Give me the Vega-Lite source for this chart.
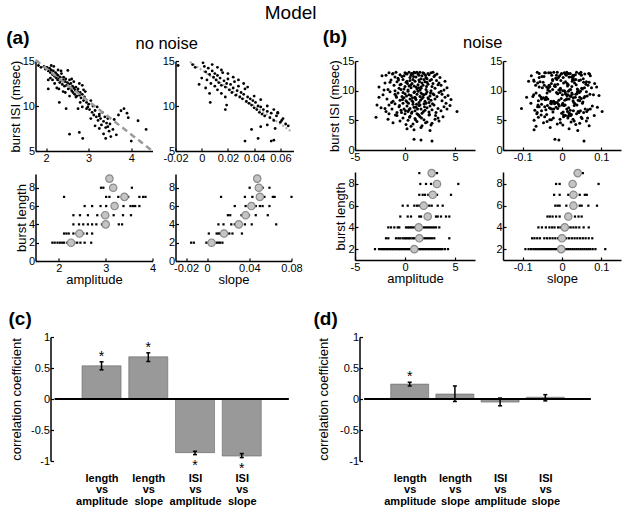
{
"$schema": "https://vega.github.io/schema/vega-lite/v6.json",
"background": "white",
"padding": {"left": 5.5, "top": 4, "right": 2, "bottom": 2},
"title": {"text": "Model", "fontSize": 19, "fontWeight": "normal", "anchor": "middle", "frame": "bounds", "offset": 5, "color": "black", "font": "Liberation Sans", "dx": -23},
"config": {
 "font": "Liberation Sans",
 "view": {"stroke": null},
 "locale": {"number": {"decimal": ".", "thousands": ",", "grouping": [3], "currency": ["$", ""], "minus": "-"}},
 "axis": {"labelFont": "Liberation Sans", "titleFont": "Liberation Sans", "labelFontSize": 11, "titleFontSize": 13, "titleFontWeight": "normal", "labelColor": "black", "titleColor": "black", "domainColor": "black", "domainWidth": 1.5, "tickColor": "black", "tickSize": -3, "tickWidth": 1.2, "labelPadding": 4, "titlePadding": 0, "grid": false, "labelFlush": false, "labelOverlap": false, "labelBound": false, "tickCount": 20},
 "title": {"color": "black", "font": "Liberation Sans"}
},
"datasets": {
 "a1": [
  {"amp":1.82,"isi":14.5},{"amp":1.88,"isi":14.3},{"amp":1.95,"isi":14.4},{"amp":1.98,"isi":14.1},{"amp":2.02,"isi":14.3},{"amp":2.05,"isi":13.9},{"amp":2.08,"isi":14.2},{"amp":2.1,"isi":13.7},{"amp":2.12,"isi":14.0},{"amp":2.15,"isi":13.5},{"amp":2.17,"isi":13.9},{"amp":2.2,"isi":13.3},{"amp":2.22,"isi":13.7},{"amp":2.24,"isi":13.1},{"amp":2.25,"isi":13.5},{"amp":2.27,"isi":12.9},{"amp":2.28,"isi":13.4},{"amp":2.3,"isi":13.0},{"amp":2.32,"isi":12.6},{"amp":2.33,"isi":13.2},{"amp":2.35,"isi":12.8},{"amp":2.36,"isi":13.6},{"amp":2.38,"isi":12.4},{"amp":2.4,"isi":12.9},{"amp":2.41,"isi":13.2},{"amp":2.43,"isi":12.2},{"amp":2.45,"isi":12.7},{"amp":2.46,"isi":13.0},{"amp":2.48,"isi":12.3},{"amp":2.5,"isi":12.6},{"amp":2.52,"isi":11.9},{"amp":2.53,"isi":12.4},{"amp":2.55,"isi":12.9},{"amp":2.57,"isi":12.0},{"amp":2.58,"isi":12.5},{"amp":2.6,"isi":11.7},{"amp":2.62,"isi":12.2},{"amp":2.63,"isi":11.5},{"amp":2.65,"isi":12.0},{"amp":2.67,"isi":11.3},{"amp":2.68,"isi":11.8},{"amp":2.7,"isi":12.1},{"amp":2.72,"isi":11.1},{"amp":2.74,"isi":11.6},{"amp":2.75,"isi":11.9},{"amp":2.78,"isi":11.2},{"amp":2.8,"isi":11.5},{"amp":2.82,"isi":10.9},{"amp":2.85,"isi":11.3},{"amp":2.88,"isi":10.6},{"amp":2.9,"isi":11.0},{"amp":2.92,"isi":11.6},
  {"amp":2.2,"isi":12.5},{"amp":2.25,"isi":12.0},{"amp":2.3,"isi":11.9},{"amp":2.15,"isi":12.9},{"amp":2.1,"isi":13.1},{"amp":2.4,"isi":11.6},{"amp":2.45,"isi":11.5},{"amp":2.55,"isi":11.1},{"amp":2.6,"isi":13.0},{"amp":2.65,"isi":12.7},{"amp":2.7,"isi":11.0},{"amp":2.35,"isi":13.9},{"amp":2.28,"isi":14.0},{"amp":2.18,"isi":14.4},{"amp":2.12,"isi":14.5},{"amp":2.05,"isi":12.9},{"amp":2.05,"isi":11.9},{"amp":2.31,"isi":10.4},{"amp":2.47,"isi":9.7},{"amp":2.51,"isi":13.95},{"amp":2.78,"isi":12.5},{"amp":2.85,"isi":12.3},{"amp":2.88,"isi":11.8},
  {"amp":2.95,"isi":10.4},{"amp":2.98,"isi":9.9},{"amp":3.0,"isi":10.2},{"amp":3.02,"isi":9.6},{"amp":3.05,"isi":10.6},{"amp":3.08,"isi":9.3},{"amp":3.1,"isi":10.0},{"amp":3.12,"isi":9.0},{"amp":3.15,"isi":9.5},{"amp":3.18,"isi":8.8},{"amp":3.2,"isi":9.9},{"amp":3.22,"isi":8.4},{"amp":3.25,"isi":9.1},{"amp":3.28,"isi":8.6},{"amp":3.3,"isi":7.9},{"amp":3.32,"isi":9.3},{"amp":3.35,"isi":8.3},{"amp":3.38,"isi":8.8},{"amp":3.4,"isi":7.6},{"amp":3.42,"isi":8.1},{"amp":3.45,"isi":8.6},{"amp":3.48,"isi":7.2},{"amp":3.5,"isi":8.0},{"amp":3.52,"isi":6.6},{"amp":2.75,"isi":9.7},{"amp":2.8,"isi":10.4},{"amp":2.85,"isi":9.9},{"amp":2.95,"isi":9.7},{"amp":3.05,"isi":8.6},{"amp":3.15,"isi":7.8},{"amp":3.25,"isi":7.5},{"amp":3.35,"isi":6.9},
  {"amp":2.55,"isi":6.87},{"amp":2.78,"isi":7.06},{"amp":2.86,"isi":6.4},{"amp":3.4,"isi":6.4},{"amp":3.57,"isi":7.4},{"amp":3.76,"isi":9.47},{"amp":3.83,"isi":9.7},{"amp":3.9,"isi":9.2},{"amp":3.7,"isi":9.0},{"amp":3.93,"isi":8.7},{"amp":4.16,"isi":8.36},{"amp":4.35,"isi":7.4},{"amp":4.0,"isi":6.1},{"amp":3.6,"isi":8.5},{"amp":3.45,"isi":7.7},{"amp":3.65,"isi":6.8},{"amp":3.25,"isi":8.9}
 ],
 "a1fit": [{"amp":1.75,"isi":15.1},{"amp":4.5,"isi":5.0}],
 "a2": [
  {"slope":-0.018,"isi":14.5},{"slope":-0.007,"isi":14.6},{"slope":-0.005,"isi":14.3},{"slope":0.001,"isi":14.8},{"slope":0.002,"isi":14.4},{"slope":0.005,"isi":14.2},{"slope":0.003,"isi":13.8},{"slope":0.006,"isi":13.5},{"slope":0.008,"isi":13.9},{"slope":0.009,"isi":13.2},{"slope":0.01,"isi":13.6},{"slope":0.011,"isi":12.9},{"slope":0.012,"isi":13.4},{"slope":0.013,"isi":12.6},{"slope":0.014,"isi":13.1},{"slope":0.015,"isi":12.3},{"slope":0.016,"isi":13.7},{"slope":0.017,"isi":12.8},{"slope":0.018,"isi":12.1},{"slope":0.019,"isi":12.5},{"slope":0.02,"isi":13.0},{"slope":0.021,"isi":11.8},{"slope":0.022,"isi":12.4},{"slope":0.023,"isi":11.5},{"slope":0.024,"isi":12.0},{"slope":0.025,"isi":12.7},{"slope":0.026,"isi":11.2},{"slope":0.027,"isi":11.7},{"slope":0.028,"isi":12.2},{"slope":0.029,"isi":11.0},{"slope":0.03,"isi":11.5},{"slope":0.031,"isi":10.8},{"slope":0.032,"isi":11.3},{"slope":0.033,"isi":11.9},{"slope":0.034,"isi":10.5},{"slope":0.035,"isi":11.0},{"slope":0.036,"isi":10.3},{"slope":0.037,"isi":10.8},{"slope":0.038,"isi":10.1},{"slope":0.039,"isi":10.6},{"slope":0.04,"isi":9.8},{"slope":0.041,"isi":10.4},{"slope":0.042,"isi":9.6},{"slope":0.043,"isi":10.0},{"slope":0.044,"isi":9.3},{"slope":0.045,"isi":9.9},{"slope":0.046,"isi":9.1},{"slope":0.047,"isi":9.6},{"slope":0.048,"isi":8.9},{"slope":0.05,"isi":9.4},{"slope":0.052,"isi":8.7},{"slope":0.053,"isi":9.2},{"slope":0.055,"isi":8.4},{"slope":0.057,"isi":8.9},{"slope":0.058,"isi":9.3},{"slope":0.06,"isi":8.2},{"slope":0.062,"isi":8.6},{"slope":0.064,"isi":8.0},{"slope":0.066,"isi":7.8},
  {"slope":0.004,"isi":12.9},{"slope":0.007,"isi":12.5},{"slope":0.01,"isi":12.2},{"slope":0.012,"isi":11.8},{"slope":0.015,"isi":11.4},{"slope":0.018,"isi":11.0},{"slope":0.006,"isi":11.4},{"slope":0.0065,"isi":10.4},{"slope":0.018,"isi":9.6},{"slope":0.019,"isi":10.1},{"slope":0.008,"isi":14.6},{"slope":0.012,"isi":14.3},{"slope":0.015,"isi":14.0},{"slope":0.02,"isi":13.6},{"slope":0.024,"isi":13.2},{"slope":0.028,"isi":12.9},{"slope":0.032,"isi":12.5},{"slope":0.035,"isi":12.1},{"slope":0.04,"isi":11.1},{"slope":0.045,"isi":10.7},{"slope":0.05,"isi":10.0},{"slope":0.055,"isi":9.6},{"slope":0.0,"isi":13.1},{"slope":-0.002,"isi":12.4},{"slope":0.003,"isi":12.0},
  {"slope":0.033,"isi":6.1},{"slope":0.043,"isi":6.4},{"slope":0.053,"isi":6.1},{"slope":0.055,"isi":6.2},{"slope":0.038,"isi":7.4},{"slope":0.045,"isi":7.7},{"slope":0.058,"isi":9.2},{"slope":0.061,"isi":8.4},{"slope":0.05,"isi":7.9},{"slope":0.056,"isi":7.5}
 ],
 "a2fit": [{"slope":-0.009,"isi":14.9},{"slope":0.069,"isi":7.1}],
 "a3": [
  {"len":2,"amp":1.86},{"len":2,"amp":1.91},{"len":2,"amp":1.97},{"len":2,"amp":2.02},{"len":2,"amp":2.07},{"len":2,"amp":2.11},{"len":2,"amp":2.18},{"len":2,"amp":2.21},{"len":2,"amp":2.28},{"len":2,"amp":2.33},{"len":2,"amp":2.39},{"len":2,"amp":2.46},{"len":2,"amp":2.55},{"len":2,"amp":2.69},
  {"len":3,"amp":2.11},{"len":3,"amp":2.16},{"len":3,"amp":2.21},{"len":3,"amp":2.31},{"len":3,"amp":2.38},{"len":3,"amp":2.52},{"len":3,"amp":2.6},{"len":3,"amp":2.71},
  {"len":4,"amp":2.31},{"len":4,"amp":2.43},{"len":4,"amp":2.52},{"len":4,"amp":2.62},{"len":4,"amp":2.71},{"len":4,"amp":2.8},{"len":4,"amp":2.92},{"len":4,"amp":3.03},{"len":4,"amp":3.28},{"len":4,"amp":3.35},
  {"len":5,"amp":2.31},{"len":5,"amp":2.45},{"len":5,"amp":2.62},{"len":5,"amp":2.82},{"len":5,"amp":2.92},{"len":5,"amp":3.03},{"len":5,"amp":3.17},{"len":5,"amp":3.37},{"len":5,"amp":3.54},
  {"len":6,"amp":2.55},{"len":6,"amp":2.71},{"len":6,"amp":2.89},{"len":6,"amp":3.01},{"len":6,"amp":3.23},{"len":6,"amp":3.38},{"len":6,"amp":3.53},{"len":6,"amp":3.58},{"len":6,"amp":3.63},{"len":6,"amp":3.72},
  {"len":7,"amp":2.11},{"len":7,"amp":3.01},{"len":7,"amp":3.08},{"len":7,"amp":3.27},{"len":7,"amp":3.48},{"len":7,"amp":3.72},{"len":7,"amp":3.8},{"len":7,"amp":3.85},
  {"len":8,"amp":2.9},{"len":8,"amp":2.95},{"len":8,"amp":3.56},
  {"len":9,"amp":3.08}
 ],
 "a3m": [{"len":2,"amp":2.26},{"len":3,"amp":2.44},{"len":4,"amp":3.0},{"len":5,"amp":2.99},{"len":6,"amp":3.19},{"len":7,"amp":3.4},{"len":8,"amp":3.16},{"len":9,"amp":3.08}],
 "a4": [
  {"len":2,"slope":-0.0152},{"len":2,"slope":-0.0126},{"len":2,"slope":-0.0007},{"len":2,"slope":0.0016},{"len":2,"slope":0.0058},{"len":2,"slope":0.009},{"len":2,"slope":0.0107},{"len":2,"slope":0.0122},{"len":2,"slope":0.0145},
  {"len":3,"slope":0.0016},{"len":3,"slope":0.009},{"len":3,"slope":0.0107},{"len":3,"slope":0.0122},{"len":3,"slope":0.017},{"len":3,"slope":0.021},{"len":3,"slope":0.024},{"len":3,"slope":0.033},
  {"len":4,"slope":0.0107},{"len":4,"slope":0.0155},{"len":4,"slope":0.0229},{"len":4,"slope":0.0262},{"len":4,"slope":0.0316},{"len":4,"slope":0.0358},{"len":4,"slope":0.0423},{"len":4,"slope":0.0655},
  {"len":5,"slope":0.0197},{"len":5,"slope":0.0219},{"len":5,"slope":0.0326},{"len":5,"slope":0.0397},{"len":5,"slope":0.0461},{"len":5,"slope":0.0575},
  {"len":6,"slope":0.0262},{"len":6,"slope":0.0365},{"len":6,"slope":0.0461},{"len":6,"slope":0.05},{"len":6,"slope":0.0526},{"len":6,"slope":0.0591},
  {"len":7,"slope":0.0132},{"len":7,"slope":0.0358},{"len":7,"slope":0.0429},{"len":7,"slope":0.0543},{"len":7,"slope":0.0623},{"len":7,"slope":0.064},{"len":7,"slope":0.08},
  {"len":8,"slope":0.0403},{"len":8,"slope":0.0526},{"len":8,"slope":0.0591},
  {"len":9,"slope":0.0475}
 ],
 "a4m": [{"len":2,"slope":0.0042},{"len":3,"slope":0.016},{"len":4,"slope":0.03},{"len":5,"slope":0.0365},{"len":6,"slope":0.042},{"len":7,"slope":0.05},{"len":8,"slope":0.049},{"len":9,"slope":0.0475}],
 "b": [
  {"amp":-2.3,"slope":-0.078,"isi":12.5},{"amp":-1.6,"slope":-0.042,"isi":13.0},{"amp":-1.2,"slope":0.021,"isi":12.9},{"amp":-0.9,"slope":-0.012,"isi":13.1},{"amp":-0.5,"slope":0.034,"isi":12.7},{"amp":-0.3,"slope":-0.051,"isi":12.4},{"amp":0.0,"slope":0.006,"isi":13.0},{"amp":0.2,"slope":0.058,"isi":12.8},{"amp":0.4,"slope":-0.021,"isi":13.1},{"amp":0.6,"slope":0.011,"isi":12.6},{"amp":0.8,"slope":0.044,"isi":12.9},{"amp":1.0,"slope":-0.029,"isi":13.0},{"amp":1.1,"slope":0.024,"isi":12.3},{"amp":1.3,"slope":-0.002,"isi":12.8},{"amp":1.5,"slope":-0.063,"isi":13.1},{"amp":1.7,"slope":0.072,"isi":12.5},{"amp":1.9,"slope":0.016,"isi":12.9},{"amp":2.1,"slope":-0.009,"isi":12.2},{"amp":2.4,"slope":0.049,"isi":12.7},{"amp":2.6,"slope":-0.044,"isi":13.0},{"amp":2.9,"slope":0.029,"isi":12.4},{"amp":3.2,"slope":0.008,"isi":12.8},{"amp":-0.7,"slope":-0.016,"isi":12.1},{"amp":0.9,"slope":0.037,"isi":13.1},{"amp":1.4,"slope":-0.026,"isi":12.6},{"amp":2.2,"slope":0.054,"isi":12.0},{"amp":0.1,"slope":0.068,"isi":12.9},{"amp":-1.0,"slope":0.018,"isi":12.3},{"amp":1.8,"slope":-0.034,"isi":13.0},{"amp":3.5,"slope":0.003,"isi":12.2},{"amp":-1.9,"slope":0.028,"isi":12.6},{"amp":0.5,"slope":-0.058,"isi":12.2},{"amp":2.8,"slope":0.012,"isi":13.1},{"amp":-0.1,"slope":-0.006,"isi":12.5},{"amp":1.2,"slope":0.048,"isi":13.1},
  {"amp":-2.6,"slope":-0.058,"isi":10.6},{"amp":-2.0,"slope":0.032,"isi":11.3},{"amp":-1.7,"slope":-0.024,"isi":10.2},{"amp":-1.4,"slope":0.047,"isi":11.8},{"amp":-1.1,"slope":-0.067,"isi":10.9},{"amp":-0.8,"slope":0.009,"isi":11.5},{"amp":-0.6,"slope":-0.035,"isi":10.4},{"amp":-0.4,"slope":0.061,"isi":11.1},{"amp":-0.2,"slope":-0.013,"isi":11.9},{"amp":0.0,"slope":0.025,"isi":10.7},{"amp":0.1,"slope":-0.048,"isi":11.4},{"amp":0.3,"slope":0.041,"isi":10.1},{"amp":0.5,"slope":-0.003,"isi":11.7},{"amp":0.6,"slope":0.075,"isi":10.5},{"amp":0.7,"slope":-0.027,"isi":11.2},{"amp":0.9,"slope":0.014,"isi":10.8},{"amp":1.0,"slope":-0.071,"isi":11.6},{"amp":1.2,"slope":0.052,"isi":10.3},{"amp":1.3,"slope":-0.018,"isi":11.0},{"amp":1.4,"slope":0.031,"isi":11.8},{"amp":1.6,"slope":-0.039,"isi":10.6},{"amp":1.7,"slope":0.004,"isi":11.3},{"amp":1.8,"slope":0.066,"isi":10.9},{"amp":2.0,"slope":-0.056,"isi":11.5},{"amp":2.1,"slope":0.022,"isi":10.2},{"amp":2.3,"slope":-0.011,"isi":11.1},{"amp":2.5,"slope":0.043,"isi":11.7},{"amp":2.7,"slope":-0.031,"isi":10.7},{"amp":2.8,"slope":0.083,"isi":11.2},{"amp":3.0,"slope":-0.004,"isi":10.4},{"amp":3.3,"slope":0.036,"isi":11.0},{"amp":3.6,"slope":-0.045,"isi":10.9},{"amp":3.9,"slope":0.019,"isi":10.1},{"amp":4.2,"slope":0.057,"isi":10.5},{"amp":-1.0,"slope":0.002,"isi":10.0},{"amp":0.2,"slope":-0.085,"isi":11.6},{"amp":0.8,"slope":0.027,"isi":11.9},{"amp":1.5,"slope":-0.008,"isi":10.1},{"amp":2.2,"slope":0.069,"isi":11.4},{"amp":-0.1,"slope":0.039,"isi":10.3},{"amp":0.4,"slope":-0.019,"isi":10.8},{"amp":1.1,"slope":0.088,"isi":10.6},{"amp":1.9,"slope":-0.024,"isi":11.9},{"amp":2.6,"slope":0.006,"isi":10.0},{"amp":3.4,"slope":-0.062,"isi":11.3},{"amp":4.0,"slope":0.026,"isi":11.6},{"amp":-0.5,"slope":0.016,"isi":11.0},{"amp":1.6,"slope":0.05,"isi":10.4},
  {"amp":-2.2,"slope":0.015,"isi":9.3},{"amp":-1.8,"slope":-0.052,"isi":8.6},{"amp":-1.5,"slope":0.039,"isi":9.8},{"amp":-1.2,"slope":-0.021,"isi":8.2},{"amp":-0.9,"slope":0.064,"isi":9.1},{"amp":-0.7,"slope":-0.038,"isi":9.6},{"amp":-0.5,"slope":0.007,"isi":8.4},{"amp":-0.3,"slope":-0.074,"isi":9.0},{"amp":-0.1,"slope":0.029,"isi":8.8},{"amp":0.0,"slope":-0.011,"isi":9.5},{"amp":0.2,"slope":0.053,"isi":8.1},{"amp":0.3,"slope":-0.031,"isi":9.9},{"amp":0.5,"slope":0.018,"isi":8.6},{"amp":0.6,"slope":-0.057,"isi":9.2},{"amp":0.7,"slope":0.045,"isi":8.3},{"amp":0.9,"slope":-0.005,"isi":9.7},{"amp":1.0,"slope":0.034,"isi":8.9},{"amp":1.1,"slope":-0.043,"isi":8.5},{"amp":1.2,"slope":0.071,"isi":9.4},{"amp":1.4,"slope":-0.016,"isi":8.0},{"amp":1.5,"slope":0.023,"isi":9.0},{"amp":1.6,"slope":-0.066,"isi":9.6},{"amp":1.7,"slope":0.049,"isi":8.7},{"amp":1.9,"slope":0.001,"isi":9.3},{"amp":2.0,"slope":-0.028,"isi":8.2},{"amp":2.2,"slope":0.062,"isi":9.8},{"amp":2.3,"slope":-0.047,"isi":8.8},{"amp":2.5,"slope":0.013,"isi":9.1},{"amp":2.6,"slope":-0.008,"isi":8.4},{"amp":2.8,"slope":0.038,"isi":9.5},{"amp":3.0,"slope":-0.036,"isi":8.6},{"amp":3.2,"slope":0.058,"isi":9.0},{"amp":3.4,"slope":-0.014,"isi":9.7},{"amp":3.7,"slope":0.028,"isi":8.3},{"amp":4.0,"slope":-0.053,"isi":8.9},{"amp":4.3,"slope":0.094,"isi":9.2},{"amp":4.6,"slope":0.011,"isi":8.5},{"amp":-2.6,"slope":-0.09,"isi":8.9},{"amp":-1.0,"slope":0.026,"isi":9.4},{"amp":0.1,"slope":-0.06,"isi":8.3},{"amp":0.4,"slope":0.08,"isi":9.3},{"amp":0.8,"slope":-0.024,"isi":8.1},{"amp":1.3,"slope":0.016,"isi":9.9},{"amp":1.8,"slope":-0.04,"isi":8.9},{"amp":2.4,"slope":0.03,"isi":8.0},{"amp":2.9,"slope":-0.072,"isi":9.3},{"amp":3.6,"slope":0.047,"isi":9.9},{"amp":-0.2,"slope":0.044,"isi":9.7},{"amp":1.05,"slope":-0.002,"isi":8.7},{"amp":2.1,"slope":0.009,"isi":9.5},
  {"amp":-2.4,"slope":-0.032,"isi":7.1},{"amp":-1.9,"slope":0.041,"isi":6.5},{"amp":-1.6,"slope":-0.061,"isi":7.6},{"amp":-1.3,"slope":0.012,"isi":6.9},{"amp":-1.0,"slope":-0.019,"isi":7.8},{"amp":-0.8,"slope":0.055,"isi":6.3},{"amp":-0.6,"slope":-0.044,"isi":7.3},{"amp":-0.4,"slope":0.021,"isi":6.7},{"amp":-0.2,"slope":-0.079,"isi":7.9},{"amp":0.0,"slope":0.037,"isi":6.1},{"amp":0.2,"slope":-0.007,"isi":7.4},{"amp":0.4,"slope":0.066,"isi":6.8},{"amp":0.5,"slope":-0.029,"isi":7.0},{"amp":0.7,"slope":0.003,"isi":6.4},{"amp":0.8,"slope":-0.052,"isi":7.7},{"amp":1.0,"slope":0.047,"isi":6.6},{"amp":1.1,"slope":-0.015,"isi":7.2},{"amp":1.3,"slope":0.024,"isi":6.0},{"amp":1.4,"slope":-0.037,"isi":7.5},{"amp":1.6,"slope":0.059,"isi":6.9},{"amp":1.7,"slope":-0.001,"isi":6.2},{"amp":1.9,"slope":0.033,"isi":7.8},{"amp":2.0,"slope":-0.069,"isi":6.7},{"amp":2.2,"slope":0.017,"isi":7.1},{"amp":2.4,"slope":-0.023,"isi":6.4},{"amp":2.5,"slope":0.077,"isi":7.4},{"amp":2.7,"slope":-0.041,"isi":6.8},{"amp":2.9,"slope":0.008,"isi":7.6},{"amp":3.1,"slope":0.043,"isi":6.3},{"amp":3.3,"slope":-0.011,"isi":7.0},{"amp":3.6,"slope":0.029,"isi":6.6},{"amp":3.9,"slope":-0.058,"isi":7.3},{"amp":4.2,"slope":0.072,"isi":6.9},{"amp":4.5,"slope":0.005,"isi":7.5},{"amp":5.2,"slope":0.102,"isi":6.5},{"amp":0.3,"slope":0.014,"isi":6.5},{"amp":1.2,"slope":-0.064,"isi":6.1},{"amp":2.1,"slope":0.052,"isi":7.9},{"amp":-0.1,"slope":-0.026,"isi":6.9},{"amp":0.9,"slope":0.09,"isi":7.2},{"amp":1.5,"slope":0.0,"isi":7.6},{"amp":-2.0,"slope":-0.103,"isi":7.0},
  {"amp":-2.9,"slope":-0.06,"isi":5.5},{"amp":-1.7,"slope":0.028,"isi":5.2},{"amp":-1.2,"slope":-0.047,"isi":4.6},{"amp":-0.8,"slope":0.009,"isi":5.8},{"amp":-0.5,"slope":0.062,"isi":4.9},{"amp":-0.2,"slope":-0.022,"isi":5.4},{"amp":0.1,"slope":0.035,"isi":4.3},{"amp":0.3,"slope":-0.071,"isi":5.0},{"amp":0.5,"slope":0.016,"isi":5.7},{"amp":0.8,"slope":-0.012,"isi":4.4},{"amp":1.0,"slope":0.051,"isi":5.3},{"amp":1.2,"slope":-0.038,"isi":4.8},{"amp":1.5,"slope":0.004,"isi":5.6},{"amp":1.7,"slope":0.069,"isi":4.1},{"amp":1.9,"slope":-0.027,"isi":5.1},{"amp":2.2,"slope":0.023,"isi":4.7},{"amp":2.4,"slope":-0.053,"isi":5.9},{"amp":2.7,"slope":0.045,"isi":4.5},{"amp":3.0,"slope":-0.005,"isi":5.2},{"amp":3.4,"slope":0.031,"isi":4.9},{"amp":3.8,"slope":-0.044,"isi":5.6},{"amp":0.6,"slope":-0.066,"isi":4.0},{"amp":1.4,"slope":0.082,"isi":5.8},{"amp":2.6,"slope":0.002,"isi":4.2},
  {"amp":0.2,"slope":0.018,"isi":3.6},{"amp":0.9,"slope":-0.071,"isi":3.4},{"amp":1.6,"slope":-0.03,"isi":3.8},{"amp":2.5,"slope":0.04,"isi":3.3},{"amp":0.9,"slope":-0.018,"isi":1.8},{"amp":1.6,"slope":-0.008,"isi":1.7},{"amp":2.7,"slope":0.056,"isi":1.5},
  {"amp":-0.4,"slope":-0.004,"isi":10.2},{"amp":0.15,"slope":0.021,"isi":9.1},{"amp":0.55,"slope":-0.033,"isi":10.9},{"amp":0.95,"slope":0.008,"isi":9.8},{"amp":1.35,"slope":-0.05,"isi":10.5},{"amp":1.75,"slope":0.035,"isi":9.4},{"amp":2.15,"slope":-0.017,"isi":10.7},{"amp":2.55,"slope":0.025,"isi":9.6},{"amp":-0.85,"slope":0.045,"isi":8.9},{"amp":-0.25,"slope":-0.041,"isi":8.5},{"amp":0.35,"slope":0.002,"isi":7.9},{"amp":0.75,"slope":0.056,"isi":8.8},{"amp":1.15,"slope":-0.009,"isi":7.7},{"amp":1.55,"slope":0.041,"isi":8.4},{"amp":1.95,"slope":-0.062,"isi":7.3},{"amp":2.35,"slope":0.012,"isi":8.6},{"amp":2.75,"slope":-0.027,"isi":7.8},{"amp":-1.35,"slope":-0.012,"isi":8.0},{"amp":-0.55,"slope":0.031,"isi":7.5},{"amp":0.05,"slope":-0.052,"isi":6.6},{"amp":0.65,"slope":0.019,"isi":6.2},{"amp":1.25,"slope":-0.021,"isi":6.9},{"amp":1.85,"slope":0.063,"isi":6.5},{"amp":2.45,"slope":-0.039,"isi":6.0},{"amp":3.05,"slope":0.022,"isi":5.8},{"amp":-0.95,"slope":0.004,"isi":5.9},{"amp":-0.35,"slope":-0.063,"isi":6.3},{"amp":0.45,"slope":0.049,"isi":5.5},{"amp":1.05,"slope":-0.031,"isi":5.1},{"amp":1.65,"slope":0.015,"isi":5.4},{"amp":2.05,"slope":-0.004,"isi":4.6},{"amp":-1.5,"slope":0.055,"isi":11.4},{"amp":-0.65,"slope":-0.072,"isi":11.8},{"amp":0.25,"slope":0.013,"isi":11.2},{"amp":0.85,"slope":-0.046,"isi":12.4},{"amp":1.45,"slope":0.062,"isi":11.5},{"amp":2.05,"slope":-0.014,"isi":12.6},{"amp":2.65,"slope":0.035,"isi":11.9},{"amp":3.15,"slope":-0.024,"isi":11.7},{"amp":-1.25,"slope":0.07,"isi":12.8},{"amp":0.65,"slope":-0.001,"isi":12.9},{"amp":1.6,"slope":0.028,"isi":12.0},{"amp":2.3,"slope":-0.058,"isi":12.9},{"amp":3.0,"slope":0.049,"isi":12.6},{"amp":-2.1,"slope":-0.036,"isi":10.1},{"amp":3.7,"slope":0.01,"isi":9.4},{"amp":4.1,"slope":-0.029,"isi":7.9},{"amp":-1.6,"slope":0.018,"isi":6.1},{"amp":3.3,"slope":0.065,"isi":5.4},{"amp":-2.8,"slope":0.038,"isi":7.6}
 ],
 "b3": [
  {"len":2,"amp":-3.0},{"len":2,"amp":-2.6},{"len":2,"amp":-2.4},{"len":2,"amp":-2.25},{"len":2,"amp":-2.1},{"len":2,"amp":-1.95},{"len":2,"amp":-1.8},{"len":2,"amp":-1.65},{"len":2,"amp":-1.5},{"len":2,"amp":-1.35},{"len":2,"amp":-1.2},{"len":2,"amp":-1.05},{"len":2,"amp":-0.9},{"len":2,"amp":-0.75},{"len":2,"amp":-0.6},{"len":2,"amp":-0.45},{"len":2,"amp":-0.3},{"len":2,"amp":-0.15},{"len":2,"amp":0.0},{"len":2,"amp":0.15},{"len":2,"amp":0.3},{"len":2,"amp":0.45},{"len":2,"amp":0.6},{"len":2,"amp":0.75},{"len":2,"amp":0.9},{"len":2,"amp":1.05},{"len":2,"amp":1.2},{"len":2,"amp":1.35},{"len":2,"amp":1.5},{"len":2,"amp":1.65},{"len":2,"amp":1.8},{"len":2,"amp":1.95},{"len":2,"amp":2.1},{"len":2,"amp":2.25},{"len":2,"amp":2.4},{"len":2,"amp":2.55},{"len":2,"amp":2.7},{"len":2,"amp":2.85},{"len":2,"amp":3.0},{"len":2,"amp":3.15},{"len":2,"amp":3.3},{"len":2,"amp":3.45},{"len":2,"amp":3.6},{"len":2,"amp":3.75},{"len":2,"amp":4.0},{"len":2,"amp":4.3},
  {"len":3,"amp":-1.9},{"len":3,"amp":-1.67},{"len":3,"amp":-0.9},{"len":3,"amp":-0.67},{"len":3,"amp":-0.47},{"len":3,"amp":-0.23},{"len":3,"amp":-0.05},{"len":3,"amp":0.1},{"len":3,"amp":0.25},{"len":3,"amp":0.4},{"len":3,"amp":0.55},{"len":3,"amp":0.75},{"len":3,"amp":0.9},{"len":3,"amp":1.1},{"len":3,"amp":1.3},{"len":3,"amp":1.5},{"len":3,"amp":1.7},{"len":3,"amp":1.9},{"len":3,"amp":2.1},{"len":3,"amp":2.3},{"len":3,"amp":2.5},{"len":3,"amp":2.7},{"len":3,"amp":2.93},{"len":3,"amp":4.43},
  {"len":4,"amp":-1.67},{"len":4,"amp":-1.4},{"len":4,"amp":-1.07},{"len":4,"amp":-0.73},{"len":4,"amp":-0.57},{"len":4,"amp":0.1},{"len":4,"amp":0.27},{"len":4,"amp":0.43},{"len":4,"amp":0.6},{"len":4,"amp":0.8},{"len":4,"amp":1.0},{"len":4,"amp":1.2},{"len":4,"amp":1.6},{"len":4,"amp":1.9},{"len":4,"amp":2.1},{"len":4,"amp":2.3},{"len":4,"amp":2.5},{"len":4,"amp":2.7},{"len":4,"amp":2.9},{"len":4,"amp":3.1},{"len":4,"amp":3.43},
  {"len":5,"amp":-0.47},{"len":5,"amp":0.27},{"len":5,"amp":0.6},{"len":5,"amp":1.43},{"len":5,"amp":1.6},{"len":5,"amp":3.1},{"len":5,"amp":3.27},{"len":5,"amp":3.6},{"len":5,"amp":4.1},{"len":5,"amp":4.43},
  {"len":6,"amp":-0.23},{"len":6,"amp":0.27},{"len":6,"amp":0.93},{"len":6,"amp":1.2},{"len":6,"amp":1.43},{"len":6,"amp":2.43},{"len":6,"amp":2.67},{"len":6,"amp":3.27},{"len":6,"amp":3.77},
  {"len":7,"amp":1.43},{"len":7,"amp":1.77},{"len":7,"amp":2.0},{"len":7,"amp":2.33},{"len":7,"amp":2.77},{"len":7,"amp":3.2},{"len":7,"amp":4.6},
  {"len":8,"amp":1.53},{"len":8,"amp":2.1},{"len":8,"amp":2.6},{"len":8,"amp":3.27},{"len":8,"amp":5.33},
  {"len":9,"amp":1.43},{"len":9,"amp":3.2}
 ],
 "b3m": [{"len":2,"amp":0.93},{"len":3,"amp":1.43},{"len":4,"amp":1.37},{"len":5,"amp":2.27},{"len":6,"amp":1.87},{"len":7,"amp":2.77},{"len":8,"amp":3.2},{"len":9,"amp":2.67}],
 "b4": [
  {"len":2,"slope":-0.093},{"len":2,"slope":-0.085},{"len":2,"slope":-0.079},{"len":2,"slope":-0.073},{"len":2,"slope":-0.068},{"len":2,"slope":-0.063},{"len":2,"slope":-0.058},{"len":2,"slope":-0.053},{"len":2,"slope":-0.048},{"len":2,"slope":-0.043},{"len":2,"slope":-0.038},{"len":2,"slope":-0.033},{"len":2,"slope":-0.028},{"len":2,"slope":-0.023},{"len":2,"slope":-0.018},{"len":2,"slope":-0.013},{"len":2,"slope":-0.008},{"len":2,"slope":-0.003},{"len":2,"slope":0.002},{"len":2,"slope":0.007},{"len":2,"slope":0.012},{"len":2,"slope":0.017},{"len":2,"slope":0.022},{"len":2,"slope":0.027},{"len":2,"slope":0.032},{"len":2,"slope":0.037},{"len":2,"slope":0.042},{"len":2,"slope":0.047},{"len":2,"slope":0.052},{"len":2,"slope":0.057},{"len":2,"slope":0.062},{"len":2,"slope":0.067},{"len":2,"slope":0.072},{"len":2,"slope":0.078},{"len":2,"slope":0.085},{"len":2,"slope":0.11},
  {"len":3,"slope":-0.076},{"len":3,"slope":-0.07},{"len":3,"slope":-0.063},{"len":3,"slope":-0.056},{"len":3,"slope":-0.045},{"len":3,"slope":-0.038},{"len":3,"slope":-0.031},{"len":3,"slope":-0.024},{"len":3,"slope":-0.017},{"len":3,"slope":-0.01},{"len":3,"slope":-0.003},{"len":3,"slope":0.004},{"len":3,"slope":0.011},{"len":3,"slope":0.018},{"len":3,"slope":0.025},{"len":3,"slope":0.032},{"len":3,"slope":0.039},{"len":3,"slope":0.046},{"len":3,"slope":0.053},{"len":3,"slope":0.06},{"len":3,"slope":0.068},{"len":3,"slope":0.077},
  {"len":4,"slope":-0.06},{"len":4,"slope":-0.051},{"len":4,"slope":-0.041},{"len":4,"slope":-0.032},{"len":4,"slope":-0.025},{"len":4,"slope":-0.019},{"len":4,"slope":-0.01},{"len":4,"slope":-0.004},{"len":4,"slope":0.016},{"len":4,"slope":0.022},{"len":4,"slope":0.029},{"len":4,"slope":0.036},{"len":4,"slope":0.044},{"len":4,"slope":0.055},{"len":4,"slope":0.068},
  {"len":5,"slope":-0.037},{"len":5,"slope":-0.031},{"len":5,"slope":-0.024},{"len":5,"slope":-0.015},{"len":5,"slope":-0.006},{"len":5,"slope":0.033},{"len":5,"slope":0.042},{"len":5,"slope":0.05},
  {"len":6,"slope":-0.017},{"len":6,"slope":-0.011},{"len":6,"slope":-0.006},{"len":6,"slope":0.011},{"len":6,"slope":0.045},{"len":6,"slope":0.05},{"len":6,"slope":0.067},{"len":6,"slope":0.089},
  {"len":7,"slope":-0.02},{"len":7,"slope":-0.006},{"len":7,"slope":0.016},{"len":7,"slope":0.045},{"len":7,"slope":0.058},{"len":7,"slope":0.063},
  {"len":8,"slope":-0.015},{"len":8,"slope":-0.006},{"len":8,"slope":0.093},
  {"len":9,"slope":0.033},{"len":9,"slope":0.042},{"len":9,"slope":0.053}
 ],
 "b4m": [{"len":2,"slope":-0.002},{"len":3,"slope":0.0},{"len":4,"slope":0.007},{"len":5,"slope":0.016},{"len":6,"slope":0.029},{"len":7,"slope":0.029},{"len":8,"slope":0.027},{"len":9,"slope":0.04}],
 "c": [
  {"k":1,"r":0.535,"lo":0.47,"hi":0.6,"sig":true},
  {"k":2,"r":0.68,"lo":0.605,"hi":0.745,"sig":true},
  {"k":3,"r":-0.865,"lo":-0.897,"hi":-0.843,"sig":true},
  {"k":4,"r":-0.92,"lo":-0.945,"hi":-0.88,"sig":true}
 ],
 "d": [
  {"k":1,"r":0.24,"lo":0.21,"hi":0.27,"sig":true},
  {"k":2,"r":0.08,"lo":-0.04,"hi":0.21,"sig":false},
  {"k":3,"r":-0.05,"lo":-0.11,"hi":0.015,"sig":false},
  {"k":4,"r":0.028,"lo":-0.03,"hi":0.07,"sig":false}
 ]
},
"spacing": 24,
"vconcat": [
 {"hconcat": [
  {"concat": [
   {"width": 117, "height": 90,
    "title": {"text": "(a)", "anchor": "start", "frame": "bounds", "fontSize": 19, "fontWeight": "bold", "baseline": "alphabetic", "offset": -8, "dx": -3},
    "layer": [
     {"data": {"name": "a1"}, "mark": {"type": "circle", "size": 8, "color": "black", "opacity": 1},
      "encoding": {"x": {"field": "amp", "type": "quantitative", "scale": {"domain": [1.75, 4.5], "nice": false, "zero": false}, "axis": {"values": [2, 3, 4], "tickCount": 20, "title": null, "labelExpr": "''+datum.value", "labelOverlap": false}},
                   "y": {"field": "isi", "type": "quantitative", "scale": {"domain": [5, 15], "nice": false, "zero": false}, "axis": {"values": [5, 10, 15], "tickCount": 20, "title": "burst ISI (msec)", "labelExpr": "''+datum.value", "labelOverlap": false}}}},
     {"data": {"name": "a1fit"}, "mark": {"type": "line", "color": "#9a9a9a", "strokeWidth": 2.5, "strokeDash": [6, 4]},
      "encoding": {"x": {"field": "amp", "type": "quantitative", "title": null}, "y": {"field": "isi", "type": "quantitative", "title": "burst ISI (msec)"}}}
    ]},
   {"width": 118, "height": 90,
    "title": {"text": "no noise", "anchor": "start", "frame": "group", "fontSize": 16.5, "fontWeight": "normal", "baseline": "alphabetic", "offset": -10, "dx": -40},
    "layer": [
     {"data": {"name": "a2fit"}, "mark": {"type": "line", "color": "#aaaaaa", "strokeWidth": 2, "strokeDash": [2, 2]},
      "encoding": {"x": {"field": "slope", "type": "quantitative", "scale": {"domain": [-0.02, 0.07], "nice": false, "zero": false}, "axis": {"values": [-0.02, 0, 0.02, 0.04, 0.06], "tickCount": 20, "title": null, "labelExpr": "''+datum.value", "labelOverlap": false}},
                   "y": {"field": "isi", "type": "quantitative", "scale": {"domain": [5, 15], "nice": false, "zero": false}, "axis": {"values": [5, 10, 15], "tickCount": 20, "title": null, "labelExpr": "''+datum.value", "labelOverlap": false}}}},
     {"data": {"name": "a2"}, "mark": {"type": "circle", "size": 8, "color": "black", "opacity": 1},
      "encoding": {"x": {"field": "slope", "type": "quantitative", "title": null}, "y": {"field": "isi", "type": "quantitative", "title": null}}}
    ]},
   {"width": 117, "height": 87,
    "layer": [
     {"data": {"name": "a3"}, "mark": {"type": "square", "size": 5, "color": "black", "opacity": 1},
      "encoding": {"x": {"field": "amp", "type": "quantitative", "scale": {"domain": [1.5, 4], "nice": false, "zero": false}, "axis": {"values": [2, 3, 4], "tickCount": 20, "title": "amplitude", "labelExpr": "''+datum.value", "labelOverlap": false}},
                   "y": {"field": "len", "type": "quantitative", "scale": {"domain": [0, 9.5], "nice": false}, "axis": {"values": [0, 2, 4, 6, 8], "tickCount": 20, "title": "burst length", "labelExpr": "''+datum.value", "labelOverlap": false}}}},
     {"data": {"name": "a3m"}, "mark": {"type": "circle", "size": 55, "fill": "#c4c4c4", "stroke": "#8a8a8a", "strokeWidth": 1.2, "opacity": 1},
      "encoding": {"x": {"field": "amp", "type": "quantitative", "title": "amplitude"}, "y": {"field": "len", "type": "quantitative", "title": "burst length"}}}
    ]},
   {"width": 116, "height": 87,
    "layer": [
     {"data": {"name": "a4"}, "mark": {"type": "square", "size": 5, "color": "black", "opacity": 1},
      "encoding": {"x": {"field": "slope", "type": "quantitative", "scale": {"domain": [-0.03, 0.08], "nice": false, "zero": false}, "axis": {"values": [-0.02, 0, 0.04, 0.08], "tickCount": 20, "title": "slope", "labelExpr": "''+datum.value", "labelOverlap": false}},
                   "y": {"field": "len", "type": "quantitative", "scale": {"domain": [0, 9.5], "nice": false}, "axis": {"values": [0, 2, 4, 6, 8], "tickCount": 20, "title": null, "labelExpr": "''+datum.value", "labelOverlap": false}}}},
     {"data": {"name": "a4m"}, "mark": {"type": "circle", "size": 55, "fill": "#c4c4c4", "stroke": "#8a8a8a", "strokeWidth": 1.2, "opacity": 1},
      "encoding": {"x": {"field": "slope", "type": "quantitative", "title": "slope"}, "y": {"field": "len", "type": "quantitative", "title": null}}}
    ]}
  ], "columns": 2, "spacing": {"row": 23, "column": 23}, "bounds": "flush", "align": "each"},
  {"concat": [
   {"width": 120, "height": 89, "data": {"name": "b"},
    "title": {"text": "(b)", "anchor": "start", "frame": "bounds", "fontSize": 19, "fontWeight": "bold", "baseline": "alphabetic", "offset": -7, "dx": -6},
    "mark": {"type": "circle", "size": 9, "color": "black", "opacity": 1},
    "encoding": {"x": {"field": "amp", "type": "quantitative", "scale": {"domain": [-5, 7], "nice": false, "zero": false}, "axis": {"values": [-5, 0, 5], "tickCount": 20, "title": null, "labelExpr": "''+datum.value", "labelOverlap": false}},
                 "y": {"field": "isi", "type": "quantitative", "scale": {"domain": [0, 15], "nice": false}, "axis": {"values": [0, 5, 10, 15], "tickCount": 20, "title": "burst ISI (msec)", "labelExpr": "''+datum.value", "labelOverlap": false}}}},
   {"width": 118, "height": 89, "data": {"name": "b"},
    "title": {"text": "noise", "anchor": "start", "frame": "group", "fontSize": 16.5, "fontWeight": "normal", "baseline": "alphabetic", "offset": -9, "dx": -40},
    "mark": {"type": "circle", "size": 9, "color": "black", "opacity": 1},
    "encoding": {"x": {"field": "slope", "type": "quantitative", "scale": {"domain": [-0.15, 0.15], "nice": false, "zero": false}, "axis": {"values": [-0.1, 0, 0.1], "tickCount": 20, "title": null, "labelExpr": "''+datum.value", "labelOverlap": false}},
                 "y": {"field": "isi", "type": "quantitative", "scale": {"domain": [0, 15], "nice": false}, "axis": {"values": [0, 5, 10, 15], "tickCount": 20, "title": null, "labelExpr": "''+datum.value", "labelOverlap": false}}}},
   {"width": 120, "height": 88,
    "layer": [
     {"data": {"name": "b3"}, "mark": {"type": "square", "size": 5, "color": "black", "opacity": 1},
      "encoding": {"x": {"field": "amp", "type": "quantitative", "scale": {"domain": [-5, 7], "nice": false, "zero": false}, "axis": {"values": [-5, 0, 5], "tickCount": 20, "title": "amplitude", "labelExpr": "''+datum.value", "labelOverlap": false}},
                   "y": {"field": "len", "type": "quantitative", "scale": {"domain": [1, 9.1], "nice": false, "zero": false}, "axis": {"values": [2, 4, 6, 8], "tickCount": 20, "title": "burst length", "labelExpr": "''+datum.value", "labelOverlap": false}}}},
     {"data": {"name": "b3m"}, "mark": {"type": "circle", "size": 55, "fill": "#c4c4c4", "stroke": "#8a8a8a", "strokeWidth": 1.2, "opacity": 1},
      "encoding": {"x": {"field": "amp", "type": "quantitative", "title": "amplitude"}, "y": {"field": "len", "type": "quantitative", "title": "burst length"}}}
    ]},
   {"width": 118, "height": 88,
    "layer": [
     {"data": {"name": "b4"}, "mark": {"type": "square", "size": 5, "color": "black", "opacity": 1},
      "encoding": {"x": {"field": "slope", "type": "quantitative", "scale": {"domain": [-0.15, 0.15], "nice": false, "zero": false}, "axis": {"values": [-0.1, 0, 0.1], "tickCount": 20, "title": "slope", "labelExpr": "''+datum.value", "labelOverlap": false}},
                   "y": {"field": "len", "type": "quantitative", "scale": {"domain": [1, 9.1], "nice": false, "zero": false}, "axis": {"values": [2, 4, 6, 8], "tickCount": 20, "title": null, "labelExpr": "''+datum.value", "labelOverlap": false}}}},
     {"data": {"name": "b4m"}, "mark": {"type": "circle", "size": 55, "fill": "#c4c4c4", "stroke": "#8a8a8a", "strokeWidth": 1.2, "opacity": 1},
      "encoding": {"x": {"field": "slope", "type": "quantitative", "title": "slope"}, "y": {"field": "len", "type": "quantitative", "title": null}}}
    ]}
  ], "columns": 2, "spacing": {"row": 22, "column": 28}, "bounds": "flush", "align": "each"}
 ], "spacing": 19.5},
 {"hconcat": [
  {"width": 258, "height": 124, "data": {"name": "c"},
   "title": {"text": "(c)", "anchor": "start", "frame": "bounds", "fontSize": 19, "fontWeight": "bold", "baseline": "alphabetic", "offset": -13, "dx": -2},
   "layer": [
    {"mark": {"type": "bar", "size": 39, "fill": "#999999", "stroke": "#666666", "strokeWidth": 0.6, "orient": "vertical"},
     "encoding": {"x": {"field": "k", "type": "quantitative", "scale": {"domain": [-0.306, 5], "nice": false, "zero": false},
                        "axis": {"values": [1, 2, 3, 4], "tickCount": 20, "domain": false, "ticks": false, "title": null, "labelFontWeight": "bold", "labelFontSize": 11, "labelLineHeight": 11.5, "labelBaseline": "top", "labelPadding": 11, "labelOverlap": false,
                                 "labelExpr": "datum.value == 1 ? ['length','vs','amplitude'] : datum.value == 2 ? ['length','vs','slope'] : datum.value == 3 ? ['ISI','vs','amplitude'] : ['ISI','vs','slope']"}},
                  "y": {"field": "r", "type": "quantitative", "scale": {"domain": [-1, 1], "nice": false}, "axis": {"values": [-1, -0.5, 0, 0.5, 1], "tickCount": 20, "title": "correlation coefficient", "titlePadding": 7, "offset": -15, "labelExpr": "''+datum.value", "labelOverlap": false}},
                  "y2": {"datum": 0}}},
    {"mark": {"type": "rule", "color": "black", "strokeWidth": 1.5},
     "encoding": {"x": {"datum": 0, "type": "quantitative"}, "x2": {"datum": 5}, "y": {"datum": 0, "type": "quantitative"}}},
    {"mark": {"type": "rule", "color": "black", "strokeWidth": 1.5},
     "encoding": {"x": {"field": "k", "type": "quantitative"}, "y": {"field": "lo", "type": "quantitative"}, "y2": {"field": "hi"}}},
    {"mark": {"type": "tick", "orient": "horizontal", "size": 4, "thickness": 1.5, "color": "black", "opacity": 1},
     "encoding": {"x": {"field": "k", "type": "quantitative"}, "y": {"field": "lo", "type": "quantitative"}}},
    {"mark": {"type": "tick", "orient": "horizontal", "size": 4, "thickness": 1.5, "color": "black", "opacity": 1},
     "encoding": {"x": {"field": "k", "type": "quantitative"}, "y": {"field": "hi", "type": "quantitative"}}},
    {"transform": [{"filter": "datum.sig && datum.r > 0"}],
     "mark": {"type": "text", "text": "*", "fontSize": 14, "baseline": "alphabetic", "dy": -1, "color": "black"},
     "encoding": {"x": {"field": "k", "type": "quantitative"}, "y": {"field": "hi", "type": "quantitative"}}},
    {"transform": [{"filter": "datum.sig && datum.r < 0"}],
     "mark": {"type": "text", "text": "*", "fontSize": 14, "baseline": "alphabetic", "dy": 15, "color": "black"},
     "encoding": {"x": {"field": "k", "type": "quantitative"}, "y": {"field": "lo", "type": "quantitative"}}}
   ]},
  {"width": 236, "height": 124, "data": {"name": "d"},
   "title": {"text": "(d)", "anchor": "start", "frame": "bounds", "fontSize": 19, "fontWeight": "bold", "baseline": "alphabetic", "offset": -13, "dx": -4},
   "layer": [
    {"mark": {"type": "bar", "size": 38, "fill": "#999999", "stroke": "#666666", "strokeWidth": 0.6, "orient": "vertical"},
     "encoding": {"x": {"field": "k", "type": "quantitative", "scale": {"domain": [0, 5], "nice": false, "zero": false},
                        "axis": {"values": [1, 2, 3, 4], "tickCount": 20, "domain": false, "ticks": false, "title": null, "labelFontWeight": "bold", "labelFontSize": 11, "labelLineHeight": 11.5, "labelBaseline": "top", "labelPadding": 11, "labelOverlap": false,
                                 "labelExpr": "datum.value == 1 ? ['length','vs','amplitude'] : datum.value == 2 ? ['length','vs','slope'] : datum.value == 3 ? ['ISI','vs','amplitude'] : ['ISI','vs','slope']"}},
                  "y": {"field": "r", "type": "quantitative", "scale": {"domain": [-1, 1], "nice": false}, "axis": {"values": [-1, -0.5, 0, 0.5, 1], "tickCount": 20, "title": "correlation coefficient", "titlePadding": 9, "labelExpr": "''+datum.value", "labelOverlap": false}},
                  "y2": {"datum": 0}}},
    {"mark": {"type": "rule", "color": "black", "strokeWidth": 1.5},
     "encoding": {"x": {"datum": 0, "type": "quantitative"}, "x2": {"datum": 5}, "y": {"datum": 0, "type": "quantitative"}}},
    {"mark": {"type": "rule", "color": "black", "strokeWidth": 1.5},
     "encoding": {"x": {"field": "k", "type": "quantitative"}, "y": {"field": "lo", "type": "quantitative"}, "y2": {"field": "hi"}}},
    {"mark": {"type": "tick", "orient": "horizontal", "size": 4, "thickness": 1.5, "color": "black", "opacity": 1},
     "encoding": {"x": {"field": "k", "type": "quantitative"}, "y": {"field": "lo", "type": "quantitative"}}},
    {"mark": {"type": "tick", "orient": "horizontal", "size": 4, "thickness": 1.5, "color": "black", "opacity": 1},
     "encoding": {"x": {"field": "k", "type": "quantitative"}, "y": {"field": "hi", "type": "quantitative"}}},
    {"transform": [{"filter": "datum.sig && datum.r > 0"}],
     "mark": {"type": "text", "text": "*", "fontSize": 14, "baseline": "alphabetic", "dy": -1, "color": "black"},
     "encoding": {"x": {"field": "k", "type": "quantitative"}, "y": {"field": "hi", "type": "quantitative"}}}
   ]}
 ], "spacing": 66, "bounds": "flush"}
]
}
